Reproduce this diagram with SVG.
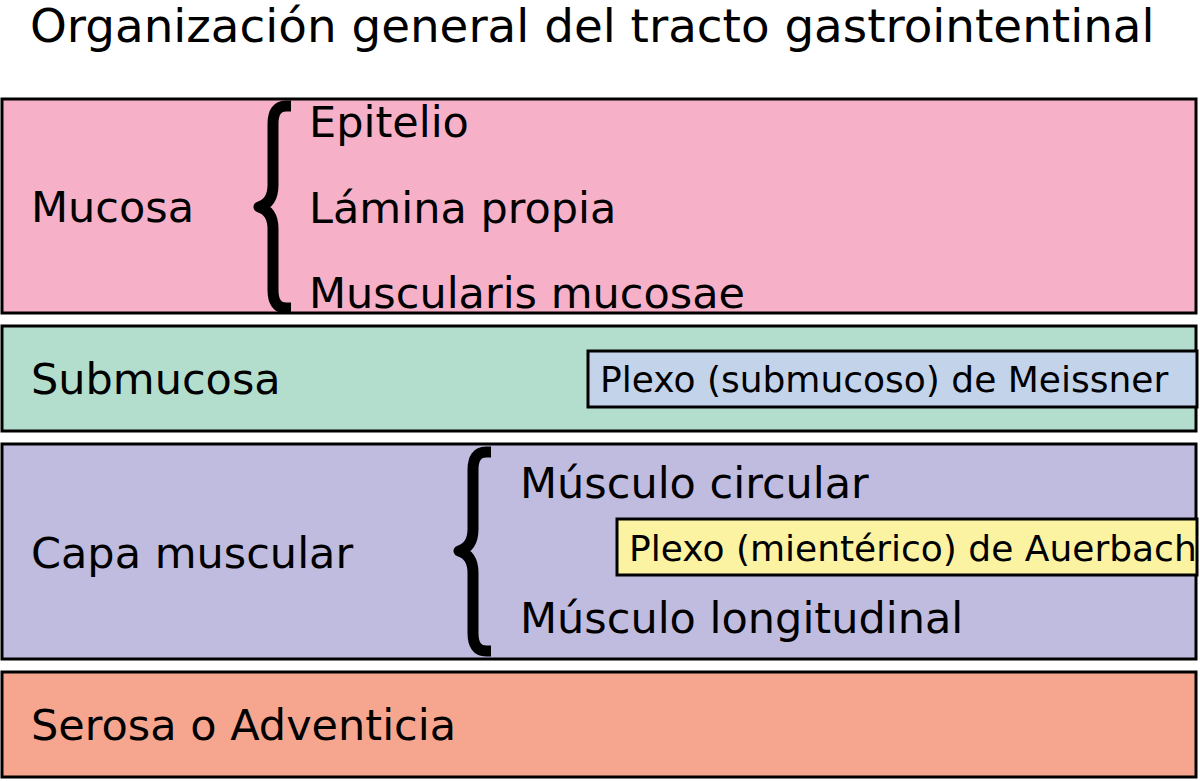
<svg xmlns="http://www.w3.org/2000/svg" width="1200" height="781" viewBox="0 0 1200 781">
<style>
.layer{stroke:#000;stroke-width:3}
.t{font-family:"DejaVu Sans",sans-serif;font-size:43px;fill:#000}
.s{font-family:"DejaVu Sans",sans-serif;font-size:36px;fill:#000}
.brace{fill:none;stroke:#000;stroke-width:11;stroke-linejoin:round}
</style>
<rect width="1200" height="781" fill="#fff"/>
<text x="30" y="42" style="font-family:'DejaVu Sans',sans-serif;font-size:46.8px">Organización general del tracto gastrointentinal</text>
<g id="mucosa">
<rect class="layer" x="2" y="99" width="1194" height="214" fill="#f6b0c8"/>
<text class="t" x="31" y="222">Mucosa</text>
<path class="brace" d="M291,106 L286,106 Q273,106 273,124 L273,185 Q273,203 259,207 Q273,211 273,229 L273,290 Q273,308 286,308 L291,308"/>
<text class="t" x="309" y="137">Epitelio</text>
<text class="t" x="309" y="223">Lámina propia</text>
<text class="t" x="309" y="308">Muscularis mucosae</text>
</g>
<g id="submucosa">
<rect class="layer" x="2" y="326" width="1194" height="105" fill="#b3dece"/>
<text class="t" x="31" y="394">Submucosa</text>
</g>
<g id="meissner">
<rect class="layer" x="588" y="351" width="609" height="56" fill="#c2d3ea"/>
<text class="s" x="600" y="392">Plexo (submucoso) de Meissner</text>
</g>
<g id="muscular">
<rect class="layer" x="2" y="444" width="1194" height="215" fill="#c0bcdf"/>
<text class="t" x="31" y="568">Capa muscular</text>
<path class="brace" d="M491,452 L486,452 Q473,452 473,470 L473,529 Q473,547 459,551 Q473,555 473,573 L473,633 Q473,651 486,651 L491,651"/>
<text class="t" x="520" y="498">Músculo circular</text>
<text class="t" x="520" y="633">Músculo longitudinal</text>
</g>
<g id="auerbach">
<rect class="layer" x="617" y="519" width="580" height="56" fill="#fbf3a2"/>
<text class="s" x="629" y="561">Plexo (mientérico) de Auerbach</text>
</g>
<g id="serosa">
<rect class="layer" x="2" y="672" width="1194" height="105" fill="#f6a68e"/>
<text class="t" x="31" y="740">Serosa o Adventicia</text>
</g>
<g id="connectors"/>
</svg>
